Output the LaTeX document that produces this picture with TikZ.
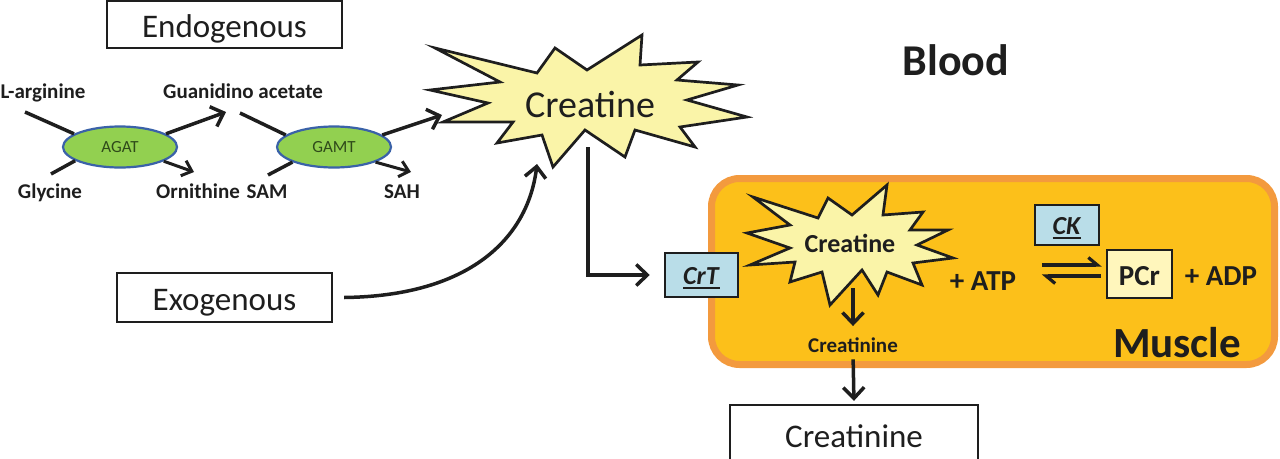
\documentclass[tikz,border=0pt]{standalone}
\usepackage{fontspec}
\setmainfont{Carlito}
\usetikzlibrary{arrows.meta,shapes.geometric,calc}
\definecolor{staryellow}{HTML}{FAF4A8}
\definecolor{enzgreen}{HTML}{92D050}
\definecolor{enzblue}{HTML}{3A62A8}
\definecolor{enztext}{HTML}{2F4A1A}
\definecolor{musclefill}{HTML}{FCC01A}
\definecolor{muscleedge}{HTML}{F39A3E}
\definecolor{tpblue}{HTML}{B9DDE8}
\definecolor{pcrfill}{HTML}{FFF6BC}
\definecolor{ink}{HTML}{1E1E1E}
\newcommand{\fsz}[1]{\fontsize{#1}{#1}\selectfont}
\newcommand{\thul}[1]{\sbox0{#1}\rlap{\raisebox{-5pt}{\rule{\wd0}{2.2pt}}}\usebox0}
\begin{document}
\begin{tikzpicture}[x=1pt,y=-1pt,
  plainbox/.style={draw=ink, line width=2.2pt, inner sep=0pt, text depth=0pt, fill=white, text=ink},
  tpbox/.style={draw=ink, line width=2.5pt, inner sep=0pt, text depth=0pt, fill=tpblue, text=ink},
  lbl/.style={inner sep=0pt, anchor=base, text=ink, font=\bfseries\fsz{21}},
  enz/.style={ellipse, draw=enzblue, line width=2.2pt, fill=enzgreen, minimum width=114pt, minimum height=41pt, inner sep=0pt, font=\fsz{17}, text=enztext},
  link/.style={draw=ink, line width=3.5pt},
  arr/.style={draw=ink, line width=3.5pt, -{Straight Barb[length=11pt,width=21pt]}},
  smallarr/.style={draw=ink, line width=3pt, -{Straight Barb[length=9pt,width=16pt]}},
  harp/.style={draw=ink, line width=3.2pt, -{Straight Barb[left,length=9pt,width=15pt]}},
  burst/.style={fill=staryellow, draw=ink, line width=2.7pt, line join=miter}
]
\useasboundingbox (0,0) rectangle (1280,458);

% ---------- muscle compartment ----------
\draw[fill=musclefill, draw=muscleedge, line width=7pt, rounded corners=28pt]
  (711.5,178.5) rectangle (1274.5,364.5);

% ---------- boxes ----------
\node[plainbox, minimum width=235pt, minimum height=47pt, text height=25pt, font=\fsz{33}] (endo) at (224.5,24.5) {Endogenous};
\node[plainbox, minimum width=215pt, minimum height=49pt, text height=25pt, font=\fsz{33}] (exo) at (224.5,297.5) {Exogenous};
\node[plainbox, minimum width=248pt, minimum height=58pt, text height=26pt, font=\fsz{33}] (crnbox) at (854,434) {Creatinine};

% ---------- endogenous pathway ----------
\node[enz] (agat) at (120,147) {AGAT};
\node[enz] (gamt) at (334,147) {GAMT};
\node[lbl] (larg) at (43,98) {L-arginine};
\node[lbl] (gaa) at (243,98) {Guanidino acetate};
\node[lbl] (gly) at (50,198) {Glycine};
\node[lbl] (orn) at (198,198) {Ornithine};
\node[lbl] (sam) at (267,198) {SAM};
\node[lbl] (sah) at (402,198) {SAH};

\coordinate (largend) at (25,112);
\coordinate (glyend) at (51,174);
\coordinate (gaatip) at (226,112);
\coordinate (ornend) at (194,172);
\coordinate (gaaend) at (240,113);
\coordinate (samend) at (268,175);
\coordinate (sahend) at (411,172);
\coordinate (crtip) at (442,115);

\draw[link] (largend) -- (agat.164);
\draw[link] (glyend) -- (agat.197);
\draw[arr] (agat.16) -- (gaatip);
\draw[smallarr] (agat.342) -- (ornend);
\draw[link] (gaaend) -- (gamt.166);
\draw[link] (samend) -- (gamt.200);
\draw[arr] (gamt.14) -- (crtip);
\draw[smallarr] (gamt.340) -- (sahend);

% ---------- big creatine burst ----------
\draw[burst] (435,48) -- (537,73) -- (555,48) -- (587,70) -- (642,35) -- (640,65)
  -- (698,62) -- (677,80) -- (738,85) -- (687,100) -- (747,117) -- (680,127)
  -- (695,147) -- (635,130) -- (625,157) -- (585,130) -- (553,167) -- (542,135)
  -- (497,143) -- (513,122) -- (443,122) -- (488,103) -- (430,90) -- (500,82) -- cycle;
\node[inner sep=0pt, anchor=base, text=ink, font=\fsz{38}] (bigcr) at (590,117) {Creatine};

\node[inner sep=0pt, anchor=base, text=ink, font=\bfseries\fsz{44}] (blood) at (956,75) {Blood};

% exogenous supply
\coordinate (exotip) at (537,164);
\draw[arr] ([xshift=11pt]exo.east) .. controls (470,296) and (528,238) .. (exotip);

% ---------- transporter ----------
\node[tpbox, minimum width=73pt, minimum height=44pt, text height=18pt, font=\fsz{26}] (crt) at (701.5,275) {\thul{\textbf{\textit{CrT}}}};
\coordinate (bigbot) at (588,147);
\draw[arr] (bigbot) |- ([xshift=-14pt]crt.west);

% ---------- small creatine burst ----------
\draw[burst] (753,197) -- (818,218) -- (828,198) -- (852,215) -- (887,185) -- (883,215)
  -- (923,212) -- (910,230) -- (948,230) -- (917,245) -- (953,258) -- (913,263)
  -- (922,285) -- (887,272) -- (878,295) -- (862,270) -- (830,305) -- (822,272)
  -- (790,282) -- (795,262) -- (750,265) -- (790,248) -- (747,233) -- (790,225) -- cycle;
\node[inner sep=0pt, anchor=base, text=ink, font=\bfseries\fsz{26}] (smcr) at (850,252) {Creatine};
\coordinate (smbot) at (853,288);

\node[lbl, font=\bfseries\fsz{21}] (crn) at (853,352) {Creatinine};
\draw[arr, shorten >=11pt] (smbot) -- (crn.north);
\draw[arr, shorten <=7pt, shorten >=3pt] (crn.south) -- (crnbox.north);

% ---------- CK reaction ----------
\node[lbl, font=\bfseries\fsz{29}] (atp) at (983,290) {+ ATP};
\node[tpbox, minimum width=64pt, minimum height=40pt, text height=18pt, font=\fsz{26}] (ck) at (1067,225) {\thul{\textbf{\textit{CK}}}};
\node[plainbox, fill=pcrfill, line width=2.5pt, minimum width=65pt, minimum height=48pt, text height=22pt, font=\bfseries\fsz{29}] (pcr) at (1139.5,274) {PCr};
\node[lbl, font=\bfseries\fsz{29}] (adp) at (1221,285) {+ ADP};
\draw[harp] ($(pcr.west)+(-64,-9)$) -- ($(pcr.west)+(-4,-9)$);
\draw[harp] ($(pcr.west)+(-5,2)$) -- ($(pcr.west)+(-64,2)$);

\node[lbl, font=\bfseries\fsz{43}] (muscle) at (1177,357) {Muscle};
\end{tikzpicture}
\end{document}
